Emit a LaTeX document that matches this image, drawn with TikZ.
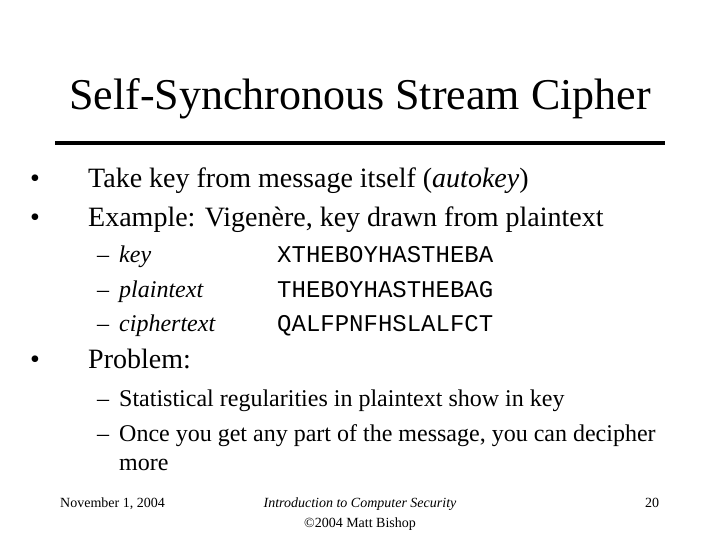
\documentclass[tikz,border=0pt]{standalone}
\usepackage{fontspec}
\setmainfont{Liberation Serif}
\setmonofont{Liberation Mono}
\begin{document}
\begin{tikzpicture}[x=1pt,y=-1pt,
  tx/.style={anchor=base west,inner sep=0pt},
  big/.style={tx,font=\fontsize{28}{32}\selectfont},
  sub/.style={tx,font=\fontsize{24}{28}\selectfont},
  mono/.style={tx,font=\fontsize{24}{28}\ttfamily},
  foot/.style={inner sep=0pt,anchor=base,font=\fontsize{14}{16}\selectfont}]
\useasboundingbox (0,0) rectangle (720,540);
\node[inner sep=0pt,anchor=base,font=\fontsize{44}{50}\selectfont] (title) at (360,110) {Self-Synchronous Stream Cipher};
\coordinate (l1) at (55,143); \coordinate (l2) at (665,143);
\draw[line width=4pt] (l1) -- (l2);
\node[big] (b1) at (30,188) {•}; \node[big] (t1) at (88,188) {Take key from message itself (\textit{autokey})};
\node[big] (b2) at (30,226) {•}; \node[big] (t2) at (88,226) {Example: Vigenère, key drawn from plaintext};
\node[sub] (d1) at (97,262) {–}; \node[sub] (s1) at (119,262) {\textit{key}};
\node[sub] (d2) at (97,297) {–}; \node[sub] (s2) at (119,297) {\textit{plaintext}};
\node[sub] (d3) at (97,331) {–}; \node[sub] (s3) at (119,331) {\textit{ciphertext}};
\node[mono] (m1) at (277,262) {XTHEBOYHASTHEBA};
\node[mono] (m2) at (277,297) {THEBOYHASTHEBAG};
\node[mono] (m3) at (277,331) {QALFPNFHSLALFCT};
\node[big] (b3) at (30,368) {•}; \node[big] (t3) at (88,368) {Problem:};
\node[sub] (d4) at (97,406) {–}; \node[sub] (s4) at (119,406) {Statistical regularities in plaintext show in key};
\node[sub] (d5) at (97,441) {–}; \node[sub] (s5) at (119,441) {Once you get any part of the message, you can decipher};
\node[sub] (s6) at (119,470) {more};
\node[foot,anchor=base west] (f1) at (60,507) {November 1, 2004};
\node[foot] (f2) at (360,507) {\textit{Introduction to Computer Security}};
\node[foot] (f3) at (360,527) {©2004 Matt Bishop};
\node[foot] (f4) at (652,507) {20};
\end{tikzpicture}
\end{document}
